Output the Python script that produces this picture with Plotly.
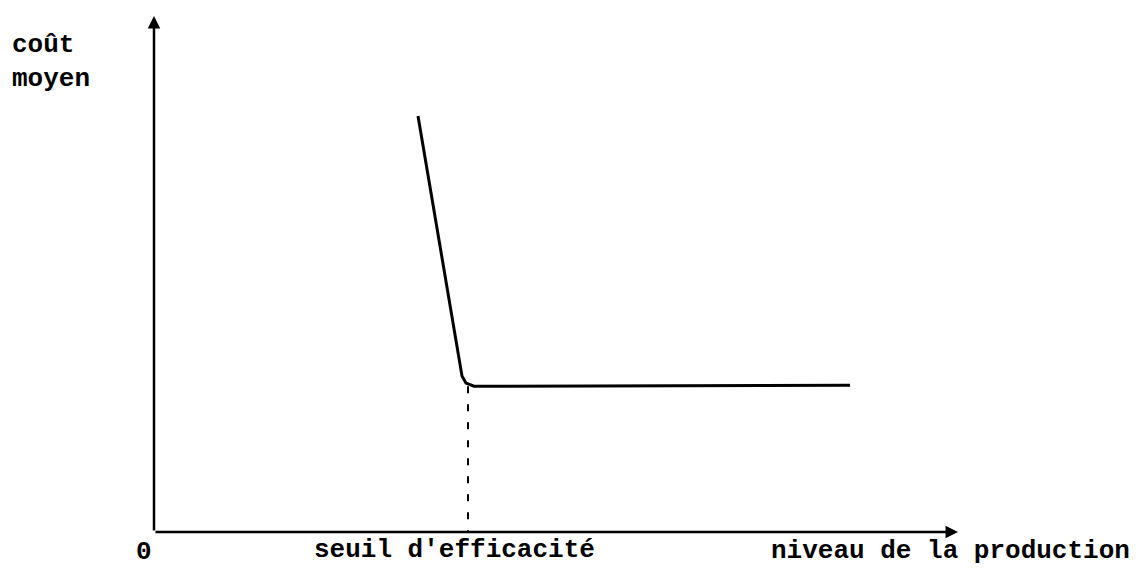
import plotly.graph_objects as go

# Schematic values (arbitrary units): production level vs average cost
curve_x = [3.30, 3.85, 3.90, 4.0, 8.70]
curve_y = [8.08, 3.03, 2.89, 2.83, 2.85]
seuil_x = 3.925
seuil_y = 2.83
x_axis_end = 10.05
y_axis_end = 10.02
labels = {"y": "coût<br>moyen", "x": "niveau de la production", "seuil": "seuil d'efficacité", "origin": "0"}

XR = [-154 / 80, 989 / 80]
YR = [(532 - 570) / 51.5, 532 / 51.5]

FONT = dict(family="Liberation Mono, Courier New, monospace", size=26, color="black")

fig = go.Figure()
fig.add_trace(go.Scatter(x=curve_x, y=curve_y, mode="lines",
                         line=dict(color="black", width=3), hoverinfo="skip"))
fig.add_trace(go.Scatter(x=[seuil_x, seuil_x], y=[seuil_y, 0], mode="lines",
                         line=dict(color="black", width=2, dash="7px,11px"), hoverinfo="skip"))

fig.add_annotation(x=x_axis_end, y=0, ax=0, ay=0, xref="x", yref="y", axref="x", ayref="y",
                   showarrow=True, arrowhead=2, arrowsize=1.0, arrowwidth=2.5, arrowcolor="black", text="")
fig.add_annotation(x=0, y=y_axis_end, ax=0, ay=0, xref="x", yref="y", axref="x", ayref="y",
                   showarrow=True, arrowhead=2, arrowsize=1.0, arrowwidth=2.5, arrowcolor="black", text="")

fig.add_annotation(x=XR[0], y=y_axis_end, xref="x", yref="y", text="<b>" + labels["y"] + "</b>",
                   showarrow=False, xanchor="left", yanchor="top", align="left", font=FONT,
                   xshift=10, yshift=-12)
fig.add_annotation(x=0, y=0, xref="x", yref="y", text="<b>" + labels["origin"] + "</b>",
                   showarrow=False, xanchor="center", yanchor="top", font=FONT, xshift=-10, yshift=-3)
fig.add_annotation(x=seuil_x, y=0, xref="x", yref="y", text="<b>" + labels["seuil"] + "</b>",
                   showarrow=False, xanchor="center", yanchor="top", font=FONT, xshift=-14, yshift=-1)
fig.add_annotation(x=x_axis_end, y=0, xref="x", yref="y", text="<b>" + labels["x"] + "</b>",
                   showarrow=False, xanchor="center", yanchor="top", font=FONT, xshift=-8, yshift=-2)

fig.update_layout(
    width=1143, height=570, margin=dict(l=0, r=0, t=0, b=0),
    paper_bgcolor="white", plot_bgcolor="white", showlegend=False,
    xaxis=dict(range=XR, visible=False, fixedrange=True),
    yaxis=dict(range=YR, visible=False, fixedrange=True),
)
fig.write_html("out.html", config={"displayModeBar": False},
               post_script="document.body.style.margin='0px';document.body.style.overflow='hidden';")
